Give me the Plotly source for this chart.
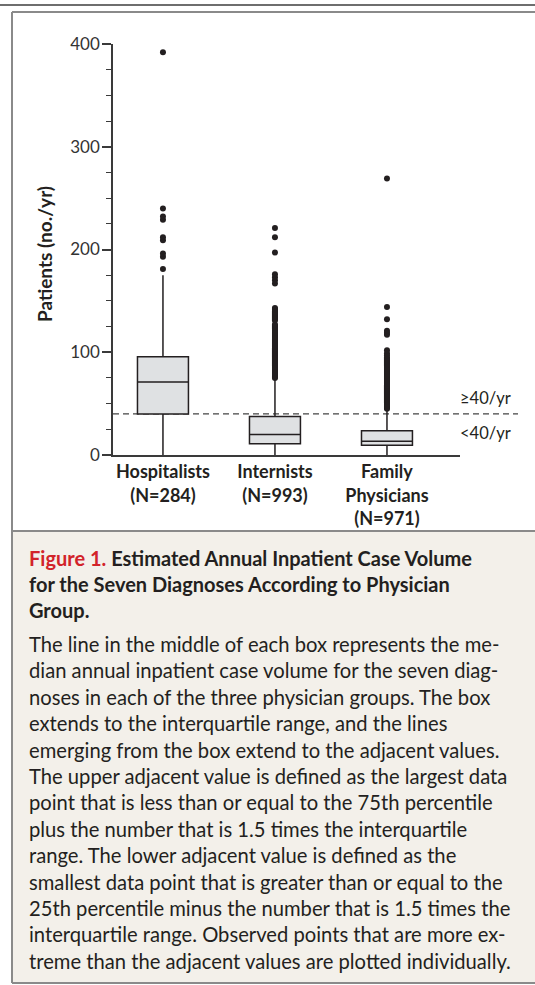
import plotly.graph_objects as go

W, H = 535, 985

# ---------------- data ----------------
groups = ["Hospitalists", "Internists", "Family Physicians"]
group_pos = [0, 1, 2]
x_tick_labels = ["<b>Hospitalists<br>(N=284)</b>",
                 "<b>Internists<br>(N=993)</b>",
                 "<b>Family<br>Physicians<br>(N=971)</b>"]
q1_vals = [40, 11, 9.5]
median_vals = [71, 20, 13.5]
q3_vals = [95.5, 37.5, 23.5]
lower_adjacent = [0, 0, 0]
upper_adjacent = [175, 74, 44]

hospitalist_outliers = [181, 193, 196, 209, 212, 229, 232, 240, 392]
internist_outliers = [75, 76, 77, 78, 79, 80, 81, 82, 83, 84, 85, 86, 87, 88, 89, 90,
                      91, 92, 93, 94, 95, 96, 97, 98, 99, 100, 101, 102, 103, 104, 105,
                      106, 107, 108, 109, 110, 111, 112, 113, 114, 115, 116, 117, 118,
                      119, 120, 121, 122, 123, 124, 125, 126, 127, 131, 132, 133, 134,
                      135, 136, 137, 138, 139, 140, 141, 142, 143, 167, 170, 173, 176,
                      197, 212, 221]
family_outliers = [45, 46, 47, 48, 49, 50, 51, 52, 53, 54, 55, 56, 57, 58, 59, 60, 61,
                   62, 63, 64, 65, 66, 67, 68, 69, 70, 71, 72, 73, 74, 75, 76, 77, 78,
                   79, 80, 81, 82, 83, 84, 85, 86, 87, 88, 89, 90, 91, 92, 93, 94, 95,
                   97, 99, 102, 117, 119, 121, 132, 144, 269]
outlier_lists = [hospitalist_outliers, internist_outliers, family_outliers]

threshold = 40
y_tick_vals = [0, 100, 200, 300, 400]
threshold_labels = ["\u226540/yr", "<40/yr"]
y_title = "Patients (no./yr)"

caption_title_lines = [
    "<span style='color:#d2232a'>Figure 1.</span> Estimated Annual Inpatient Case Volume",
    "for the Seven Diagnoses According to Physician",
    "Group.",
]
caption_body_lines = [
    "The line in the middle of each box represents the me-",
    "dian annual inpatient case volume for the seven diag-",
    "noses in each of the three physician groups. The box",
    "extends to the interquartile range, and the lines",
    "emerging from the box extend to the adjacent values.",
    "The upper adjacent value is defined as the largest data",
    "point that is less than or equal to the 75th percentile",
    "plus the number that is 1.5 times the interquartile",
    "range. The lower adjacent value is defined as the",
    "smallest data point that is greater than or equal to the",
    "25th percentile minus the number that is 1.5 times the",
    "interquartile range. Observed points that are more ex-",
    "treme than the adjacent values are plotted individually.",
]

# ---------------- styling helpers ----------------
INK = "#231f20"
AX = "#3a3a3a"
FONT = "Lato"


def px(x):
    return x / W


def py(y):
    return 1 - y / H


fig = go.Figure()

for i in range(len(groups)):
    fig.add_trace(go.Box(
        x=[group_pos[i]], q1=[q1_vals[i]], median=[median_vals[i]], q3=[q3_vals[i]],
        lowerfence=[lower_adjacent[i]], upperfence=[upper_adjacent[i]],
        boxpoints=False, width=0.455, whiskerwidth=0,
        fillcolor="#dfe1e3", line=dict(color=INK, width=1.5),
        name=groups[i], showlegend=False, hoverinfo="skip",
    ))

for i in range(len(groups)):
    fig.add_trace(go.Scatter(
        x=[group_pos[i]] * len(outlier_lists[i]), y=outlier_lists[i],
        mode="markers", marker=dict(size=6, color=INK, line=dict(width=0)),
        showlegend=False, cliponaxis=False, hoverinfo="skip",
    ))

shapes = [
    # caption background
    dict(type="rect", xref="paper", yref="paper", x0=px(12), x1=px(536), y0=py(983), y1=py(531),
         fillcolor="#f3f0ea", line=dict(width=0), layer="below"),
    # top rule
    dict(type="line", xref="paper", yref="paper", x0=0, x1=1, y0=py(5), y1=py(5),
         line=dict(color="#6e6e6e", width=2)),
    # panel borders
    dict(type="line", xref="paper", yref="paper", x0=px(12), x1=1, y0=py(12), y1=py(12),
         line=dict(color="#8a8a8a", width=2)),
    dict(type="line", xref="paper", yref="paper", x0=px(12), x1=px(12), y0=py(12), y1=py(983),
         line=dict(color="#8a8a8a", width=2)),
    dict(type="line", xref="paper", yref="paper", x0=px(12), x1=1, y0=py(531), y1=py(531),
         line=dict(color="#8a8a8a", width=2)),
    dict(type="line", xref="paper", yref="paper", x0=px(12), x1=1, y0=py(983), y1=py(983),
         line=dict(color="#8a8a8a", width=2)),
    # threshold
    dict(type="line", xref="paper", yref="y", x0=px(113), x1=px(518), y0=threshold, y1=threshold,
         line=dict(color="#444444", width=1.3, dash="6px,4px"), layer="below"),
]

annotations = [
    dict(xref="paper", yref="y", x=px(513), y=threshold, yshift=16, xanchor="right", yanchor="middle",
         text=threshold_labels[0], showarrow=False, font=dict(size=16.5, color=INK, family=FONT)),
    dict(xref="paper", yref="y", x=px(513), y=threshold, yshift=-19, xanchor="right", yanchor="middle",
         text=threshold_labels[1], showarrow=False, font=dict(size=16.5, color=INK, family=FONT)),
    dict(xref="paper", yref="paper", x=px(45), y=py(254), xanchor="center", yanchor="middle",
         text="<b>" + y_title + "</b>", textangle=-90, showarrow=False,
         font=dict(size=19, color=INK, family=FONT)),
]

title_y = [558, 584, 610]
for t, yc in zip(caption_title_lines, title_y):
    annotations.append(dict(xref="paper", yref="paper", x=px(27), y=py(yc), xanchor="left",
                            yanchor="middle", text="<b>" + t + "</b>", showarrow=False,
                            font=dict(size=20, color=INK, family=FONT)))
body_start, body_step = 644, 26.4
for k, t in enumerate(caption_body_lines):
    annotations.append(dict(xref="paper", yref="paper", x=px(27), y=py(body_start + k * body_step),
                            xanchor="left", yanchor="middle", text=t, showarrow=False,
                            font=dict(size=20.2, color=INK, family=FONT)))

fig.update_layout(
    width=W, height=H, autosize=False,
    margin=dict(l=0, r=0, t=0, b=0, pad=0, autoexpand=False),
    paper_bgcolor="white", plot_bgcolor="white",
    font=dict(family=FONT, color=INK),
    shapes=shapes, annotations=annotations,
    xaxis=dict(domain=[px(113), px(460)], range=[-0.446, 2.652], showgrid=False, zeroline=False,
               automargin=False,
               showline=True, linecolor=AX, linewidth=1.5, ticks="",
               tickvals=group_pos, ticktext=x_tick_labels, ticklabelstandoff=0,
               tickfont=dict(size=18, color=INK, family=FONT)),
    yaxis=dict(domain=[py(455), py(44)], range=[0, 400], showgrid=False, zeroline=False,
               automargin=False,
               showline=True, linecolor=AX, linewidth=1.5,
               ticks="outside", ticklen=9, tickwidth=1.5, tickcolor=AX,
               tickvals=y_tick_vals, ticklabelstandoff=-1,
               tickfont=dict(size=17, color="#333333", family=FONT),
               minor=dict(ticks="outside", ticklen=5, tickwidth=1.3, tickcolor=AX,
                          tick0=0, dtick=25)),
)

fig.write_html("out.html", config={"displayModeBar": False},
               post_script="document.body.style.margin='0';document.body.style.overflow='hidden';")
